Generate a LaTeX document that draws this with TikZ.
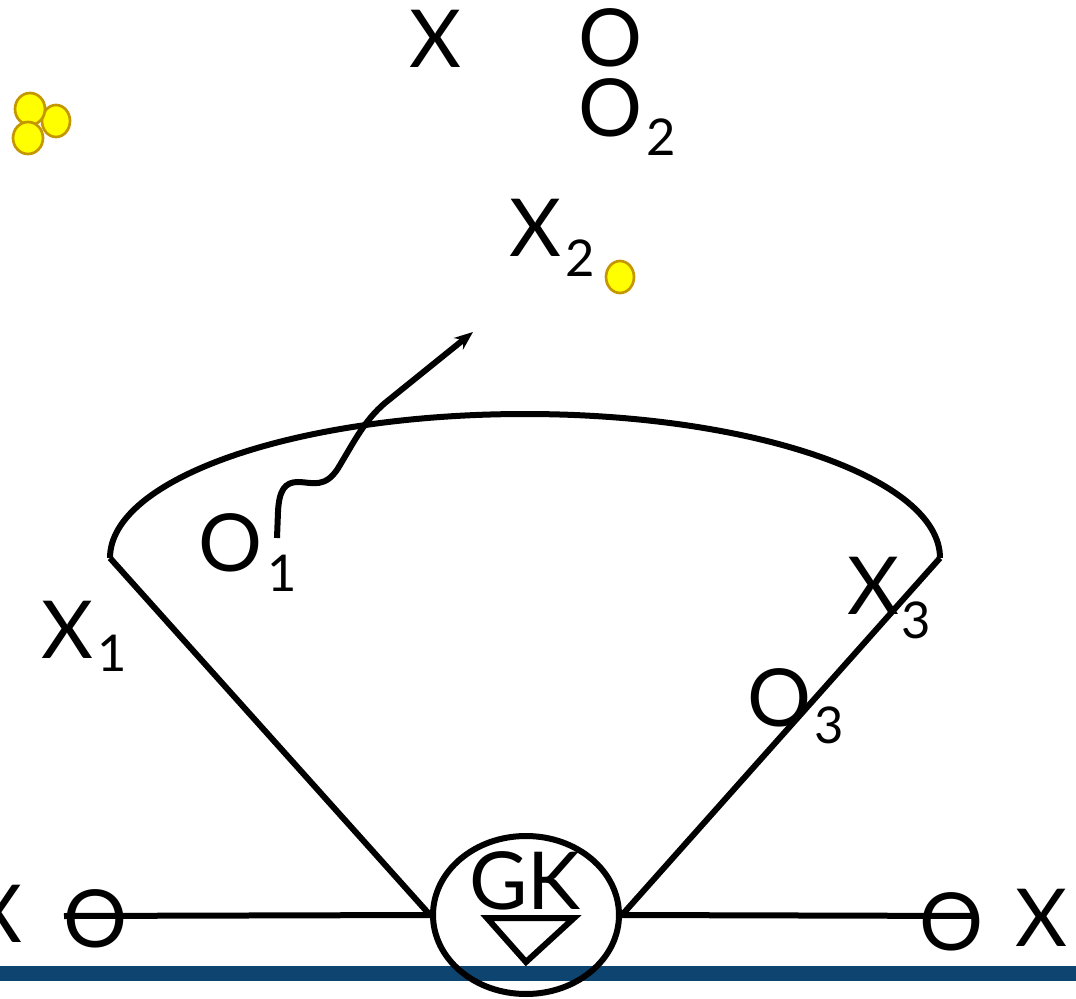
\documentclass[tikz,border=0pt]{standalone}
\usepackage{fontspec}
\setmainfont{Lato}
\usetikzlibrary{shapes.geometric,arrows.meta}
\definecolor{barblue}{RGB}{14,68,112}
\definecolor{dotedge}{RGB}{196,150,0}
\definecolor{dotfill}{RGB}{255,255,0}
\tikzset{
  big/.style={inner sep=0pt, font=\fontsize{60}{60}\selectfont},
  sub/.style={inner sep=0pt, font=\fontsize{38}{38}\selectfont},
  wire/.style={line width=4.5pt},
  dot/.style={draw=dotedge, fill=dotfill, line width=2pt},
}
\begin{document}
\begin{tikzpicture}[x=0.75pt,y=-0.75pt]
\useasboundingbox (0,0) rectangle (1076,999);

% ground bar
\fill[barblue] (0,966) rectangle (1076,981);

% yellow dots
\draw[dot] (56,121) ellipse [x radius=14, y radius=16];
\draw[dot] (30,109) ellipse [x radius=15, y radius=16];
\draw[dot] (28,138) ellipse [x radius=15, y radius=16];
\draw[dot] (620,277) ellipse [x radius=14, y radius=16];

% top labels
\node[big] (xtop) at (435,39) {X};
\node[big] (otop) at (611,38) {O};
\node[big] (o2) at (611,108) {O};
\node[sub] (o2s) at (661,137) {2};
\node[big] (x2) at (535,228) {X};
\node[sub] (x2s) at (580,258) {2};

% central ellipse node (sizes in pt)
\node[draw, ellipse, line width=4.5pt, minimum width=139.5pt, minimum height=118.5pt, inner sep=0pt] (gk) at (526,915) {};
\node[big] (gktext) at (525,881) {GK};
\draw[wire, line join=miter] (487,918) -- (574,918) -- (526,962) -- cycle;

% cone
\coordinate (cl) at (110,558);
\coordinate (cr) at (940,558);
\draw[wire] (cl) arc[start angle=180, end angle=360, x radius=415, y radius=144];
\draw[wire] (cl) -- (gk.west);
\draw[wire] (cr) -- (gk.east);

% side labels
\node[big] (x1) at (67,630) {X};
\node[sub] (x1s) at (112,653) {1};
\node[big] (o1) at (231,543) {O};
\node[sub] (o1s) at (282,573) {1};
\node[big] (x3) at (873,586) {X};
\node[sub] (x3s) at (916,620) {3};
\node[big] (o3) at (780,698) {O};
\node[sub] (o3s) at (829,725) {3};

% emitted wavy path
\coordinate (ws) at (277,538);
\coordinate (we) at (473,332);
\draw[wire, -{Stealth[length=14pt, width=11pt]}] (ws) -- (278,512)
  .. controls (279,490) and (285,482) .. (298,482)
  .. controls (312,482) and (326,490) .. (340,465)
  .. controls (355,440) and (365,420) .. (385,403) -- (we);

% horizontal line
\node[big] (xl) at (-4,914) {X};
\node[big] (ol) at (96,919) {O};
\node[big] (or) at (952,922) {O};
\node[big] (xr) at (1041,918) {X};
\coordinate (hl) at (64,916);
\coordinate (hr) at (978,916);
\draw[wire] (hl) -- (gk.west);
\draw[wire] (gk.east) -- (hr);
\end{tikzpicture}
\end{document}
